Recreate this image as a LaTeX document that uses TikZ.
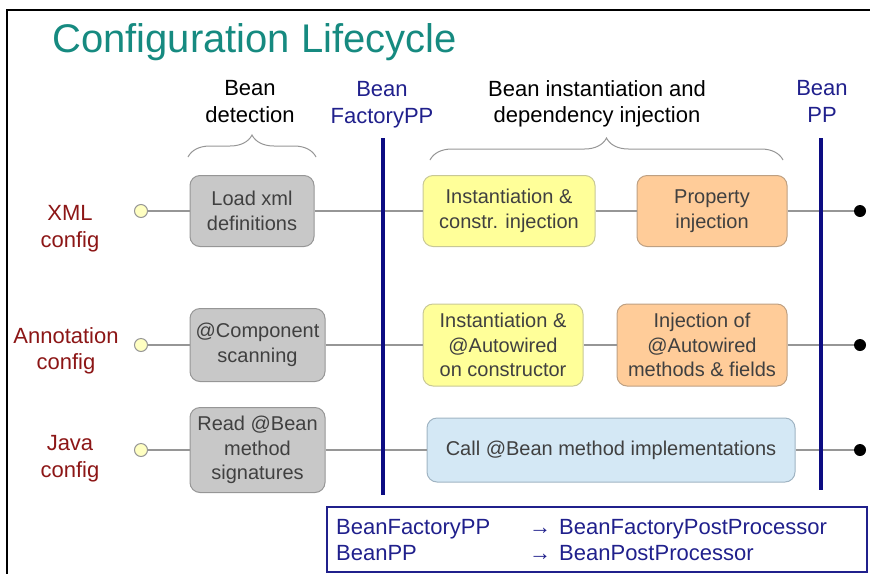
\documentclass[tikz,border=0pt]{standalone}
\usepackage{fontspec}
\setmainfont{Liberation Sans}
\usetikzlibrary{decorations.pathreplacing}
\definecolor{titleteal}{RGB}{22,138,128}
\definecolor{cfgred}{RGB}{140,22,22}
\definecolor{ppnavy}{RGB}{12,12,130}
\definecolor{ppink}{RGB}{32,32,140}
\definecolor{boxink}{RGB}{64,64,64}
\definecolor{wiregray}{RGB}{150,150,150}
\definecolor{detfill}{RGB}{200,200,200}
\definecolor{detline}{RGB}{150,150,150}
\definecolor{instfill}{RGB}{255,255,153}
\definecolor{instline}{RGB}{200,200,150}
\definecolor{injfill}{RGB}{255,204,153}
\definecolor{injline}{RGB}{190,160,130}
\definecolor{callfill}{RGB}{212,232,245}
\definecolor{callline}{RGB}{160,180,195}
\tikzset{
  stagebox/.style = {draw, rounded corners=10pt, line width=1pt, align=center,
    text=boxink, inner sep=0pt, font=\fontsize{20}{24.5}\selectfont},
  detect/.style = {stagebox, fill=detfill, draw=detline},
  inst/.style = {stagebox, fill=instfill, draw=instline},
  inject/.style = {stagebox, fill=injfill, draw=injline},
  callbox/.style = {stagebox, fill=callfill, draw=callline},
  head/.style = {align=center, inner sep=0pt, font=\fontsize{22}{26.5}\selectfont},
  cfg/.style = {head, text=cfgred},
  port/.style = {circle, draw=wiregray, fill=instfill!60, line width=1pt,
    minimum size=13pt, inner sep=0pt},
  sink/.style = {circle, fill=black, minimum size=12pt, inner sep=0pt},
  wire/.style = {draw=wiregray, line width=1.5pt},
  phase/.style = {draw=ppnavy, line width=4pt},
  bracket/.style = {draw=wiregray, line width=1pt,
    decorate, decoration={brace, amplitude=22pt}},
  legend/.style = {inner sep=0pt, anchor=base west, text=ppink,
    font=\fontsize{22}{26}\selectfont}
}
\begin{document}
\begin{tikzpicture}[x=1pt, y=-1pt]
      \useasboundingbox (0,0) rectangle (870,574);
      \draw[line width=2.5pt] (870,10) -- (7,10) -- (7,574);
      \node[anchor=base west, inner sep=0pt, text=titleteal,
        font=\fontsize{40}{48}\selectfont] (title) at (52,52) {Configuration Lifecycle};
      % column heads
      \node[head] (hdetect) at (250,101.5) {Bean\\detection};
      \node[head, text=ppink] (hfactory) at (382,104.5) {Bean\\FactoryPP};
      \node[head] (hinst) at (597,104) {Bean instantiation and\\dependency injection};
      \node[head, text=ppink] (hpost) at (822,101.5) {Bean\\PP};
      \draw[bracket] (188,157) -- (316,157);
      \draw[bracket] (430,160) -- (783,160);
      % config kinds
      \node[cfg] (xml) at (70,228.5) {XML\\config};
      \node[cfg] (anno) at (66,351) {Annotation\\config};
      \node[cfg] (java) at (70,458.5) {Java\\config};
      \node[port] (inxml) at (141,211) {};
      \node[port] (inanno) at (141,345) {};
      \node[port] (injava) at (141,450) {};
      % stages
      \node[detect, minimum width=124pt, minimum height=71pt] (load) at (252,211)
        {Load xml\\definitions};
      \node[detect, minimum width=135pt, minimum height=73pt] (scan) at (257.5,345)
        {@Component\\scanning};
      \node[detect, minimum width=135pt, minimum height=85pt] (read) at (257.5,450)
        {Read @Bean\\method\\signatures};
      \node[inst, minimum width=172pt, minimum height=71pt] (ctorxml) at (509,211)
        {Instantiation \&\\constr. injection};
      \node[inst, minimum width=160pt, minimum height=82pt] (ctoranno) at (503,345)
        {Instantiation \&\\@Autowired\\on constructor};
      \node[inject, minimum width=150pt, minimum height=71pt] (propxml) at (712,211)
        {Property\\injection};
      \node[inject, minimum width=170pt, minimum height=82pt] (propanno) at (702,345)
        {Injection of\\@Autowired\\methods \& fields};
      \node[callbox, minimum width=368pt, minimum height=64pt] (calljava) at (611,450)
        {Call @Bean method implementations};
      \node[sink] (outxml) at (860,211) {};
      \node[sink] (outanno) at (860,345) {};
      \node[sink] (outjava) at (860,450) {};
      \draw[wire] (inxml) -- (load) -- (ctorxml) -- (propxml) -- (outxml);
      \draw[wire] (inanno) -- (scan) -- (ctoranno) -- (propanno) -- (outanno);
      \draw[wire] (injava) -- (read) -- (calljava) -- (outjava);
      % post processor phases
      \coordinate (fptop) at (383,138);
      \coordinate (fpbot) at (383,495);
      \coordinate (pptop) at (821,138);
      \coordinate (ppbot) at (821,490);
      \draw[phase] (fptop) -- (fpbot);
      \draw[phase] (pptop) -- (ppbot);
      % legend
      \draw[draw=ppink, line width=1.5pt] (327,507) rectangle (867,572);
      \node[legend] (abfp) at (336,534) {BeanFactoryPP};
      \node[legend] (arfp) at (529,534) {→};
      \node[legend] (fullfp) at (559,534) {BeanFactoryPostProcessor};
      \node[legend] (abpp) at (336,560) {BeanPP};
      \node[legend] (arpp) at (529,560) {→};
      \node[legend] (fullpp) at (559,560) {BeanPostProcessor};
    \end{tikzpicture}
\end{document}
